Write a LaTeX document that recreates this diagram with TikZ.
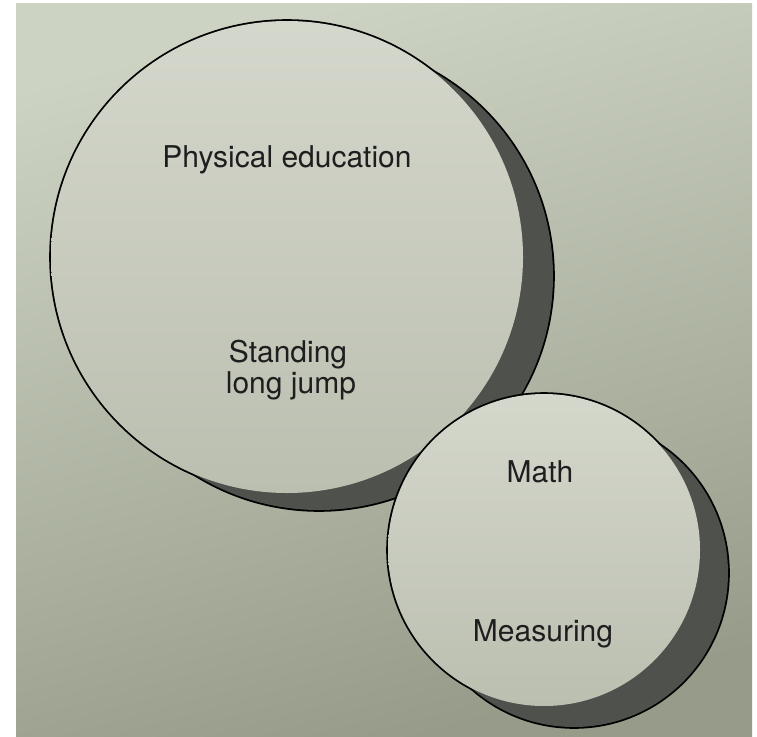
\documentclass[tikz,border=0pt]{standalone}
\usepackage{fontspec}
\setmainfont{TeX Gyre Heros}
\definecolor{paperTop}{HTML}{CDD3C3}
\definecolor{paperBot}{HTML}{979C8A}
\definecolor{diskTop}{HTML}{D4D7CB}
\definecolor{diskBot}{HTML}{BBBFB0}
\definecolor{shade}{HTML}{4F514C}
\definecolor{ink}{HTML}{1E1E1E}
\tikzset{
  outline/.style={draw=black, line width=3.6pt},
  shadowfill/.style={fill=shade},
  diskfill/.style={top color=diskTop, bottom color=diskBot},
  label/.style={font=\fontsize{30}{33}\selectfont, text=ink, inner sep=0pt, anchor=base, align=center}
}
\begin{document}
\begin{tikzpicture}[x=1pt,y=-1pt]
\useasboundingbox (0,0) rectangle (757,736);
\fill[white] (0,0) rectangle (757,736);
\shade[top color=paperTop, bottom color=paperBot, shading angle=15] (16,3) rectangle (752,736);
% big circle
\draw[outline] (319,276) circle (234);
\draw[outline] (287,257) circle (236);
\fill[shadowfill] (319,276) circle (234);
\shade[diskfill] (287,257) circle (236);
% small circle
\draw[outline] (574,573) circle (154);
\draw[outline] (544,550) circle (156);
\fill[shadowfill] (574,573) circle (154);
\shade[diskfill] (544,550) circle (156);
% labels
\node[label] (pe) at (287,167) {Physical education};
\node[label] (sj1) at (288,362) {Standing};
\node[label] (sj2) at (291,393) {long jump};
\node[label] (math) at (540,482) {Math};
\node[label] (meas) at (543,641) {Measuring};
\end{tikzpicture}
\end{document}
